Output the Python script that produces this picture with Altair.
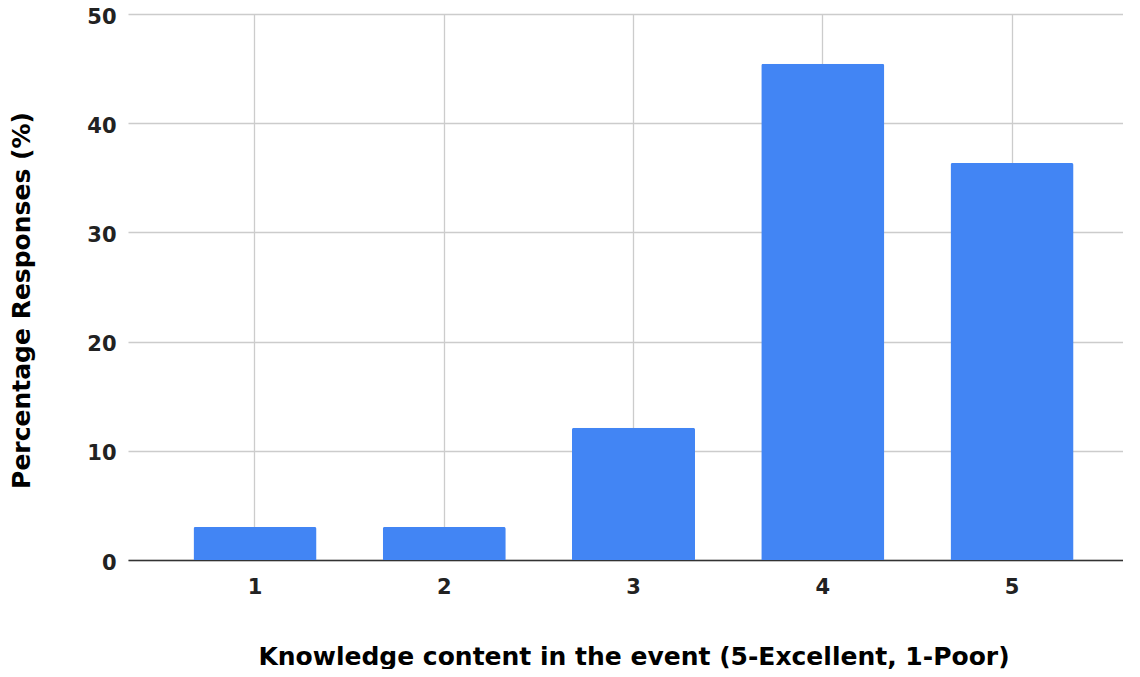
import altair as alt
import pandas as pd

categories = ["1", "2", "3", "4", "5"]
percentages = [3.03, 3.03, 12.12, 45.45, 36.36]

df = pd.DataFrame({"rating": categories, "pct": percentages})

FONT = "DejaVu Sans"

chart = alt.Chart(df).mark_bar(
    color="#4285F4",
    cornerRadiusTopLeft=2,
    cornerRadiusTopRight=2,
).encode(
    x=alt.X(
        "rating:N",
        sort=categories,
        scale=alt.Scale(paddingInner=0.35, paddingOuter=0.346),
        axis=alt.Axis(
            title="Knowledge content in the event (5-Excellent, 1-Poor)",
            labelAngle=0,
            ticks=False,
            grid=True,
            bandPosition=0.5,
            gridColor="#cccccc",
            gridWidth=1.3,
            domainColor="#333333",
            domainWidth=1.3,
            labelFont=FONT,
            labelFontSize=21,
            labelFontWeight="bold",
            labelColor="#222222",
            labelPadding=16,
            titleFont=FONT,
            titleFontSize=25,
            titleFontWeight="bold",
            titleColor="#000000",
            titleX=505.5,
            titleY=104,
            titleAlign="center",
            titleBaseline="alphabetic",
        ),
    ),
    y=alt.Y(
        "pct:Q",
        scale=alt.Scale(domain=[0, 50], nice=False),
        axis=alt.Axis(
            title="Percentage Responses (%)",
            values=[0, 10, 20, 30, 40, 50],
            ticks=False,
            domain=False,
            gridColor="#cccccc",
            gridWidth=1.3,
            labelFont=FONT,
            labelFontSize=21,
            labelFontWeight="bold",
            labelColor="#222222",
            labelPadding=12,
            labelOffset=3,
            titleFont=FONT,
            titleFontSize=25,
            titleFontWeight="bold",
            titleColor="#000000",
            titleAngle=270,
            titleX=-107,
            titleY=286,
            titleAlign="center",
            titleBaseline="middle",
        ),
    ),
).properties(
    width=1011,
    height=546,
    autosize=alt.AutoSizeParams(type="none"),
    padding={"left": 120, "top": 6, "right": -16, "bottom": 109},
).configure_view(stroke=None)

chart.save("out.html", embed_options={"renderer": "svg", "actions": False})
